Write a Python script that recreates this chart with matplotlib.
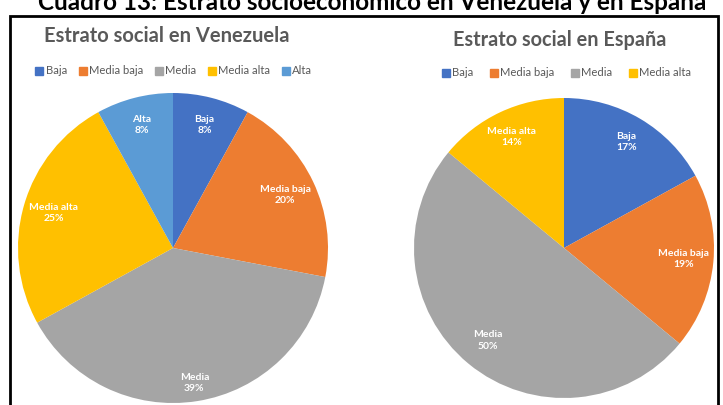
import matplotlib.pyplot as plt
from matplotlib.lines import Line2D
from matplotlib.patches import Rectangle
import numpy as np

plt.rcParams['font.family'] = ['Lato', 'DejaVu Sans']

# data
ven_labels = ['Baja', 'Media baja', 'Media', 'Media alta', 'Alta']
ven_values = [8, 20, 39, 25, 8]
esp_labels = ['Baja', 'Media baja', 'Media', 'Media alta']
esp_values = [17, 19, 50, 14]

colors = {'Baja': '#4472C4', 'Media baja': '#ED7D31', 'Media': '#A5A5A5',
          'Media alta': '#FFC000', 'Alta': '#5B9BD5'}
grey_txt = '#595959'

W, H = 723, 405
fig = plt.figure(figsize=(W / 100, H / 100), dpi=100)


def px_axes(left, top, size):
    return fig.add_axes([left / W, 1 - (top + size) / H, size / W, size / H])


def draw_pie(ax, labels, values, label_dist):
    cols = [colors[l] for l in labels]
    wedges, _ = ax.pie(values, colors=cols, startangle=90, counterclock=False,
                       wedgeprops=dict(linewidth=0))
    total = sum(values)
    for w, lab, v, d in zip(wedges, labels, values, label_dist):
        ang = np.deg2rad((w.theta1 + w.theta2) / 2)
        ax.text(d * np.cos(ang), d * np.sin(ang), f"{lab}\n{round(100 * v / total)}%",
                ha='center', va='center', color='white', fontsize=7.5,
                fontweight='bold', linespacing=1.3)
    ax.set_xlim(-1, 1)
    ax.set_ylim(-1, 1)
    ax.axis('off')


ax1 = px_axes(18, 93, 310)
draw_pie(ax1, ven_labels, ven_values, [0.82, 0.8, 0.88, 0.8, 0.82])

ax2 = px_axes(414, 98, 300)
draw_pie(ax2, esp_labels, esp_values, [0.82, 0.8, 0.8, 0.82])

# titles
fig.text(167 / W, 1 - 36 / H, 'Estrato social en Venezuela', ha='center', va='center',
         fontsize=14.5, color=grey_txt, fontweight='bold')
fig.text(560 / W, 1 - 40 / H, 'Estrato social en España', ha='center', va='center',
         fontsize=14.3, color=grey_txt, fontweight='bold')

# legends
def legend_for(labels, cx, cy, spacing):
    handles = [Line2D([], [], marker='s', linestyle='', markersize=5.5,
                      color=colors[l]) for l in labels]
    fig.legend(handles, labels, loc='center', bbox_to_anchor=(cx / W, 1 - cy / H),
               ncol=len(labels), frameon=False, fontsize=8.1, handlelength=0.6,
               handletextpad=0.25, columnspacing=1.1 * spacing, labelcolor=grey_txt)

legend_for(ven_labels, 174, 71, 1.0)
legend_for(esp_labels, 567, 73, 1.4)

# outer frame and cut-off caption
fig.patches.append(Rectangle((10 / W, -0.1), 708 / W, 1.1 - 16 / H,
                             transform=fig.transFigure, fill=False,
                             edgecolor='black', linewidth=2))
fig.text(372 / W, 1 - 10 / H, 'Cuadro 13: Estrato socioeconómico en Venezuela y en España',
         ha='center', va='baseline', fontsize=17.5, fontweight='bold', color='black')

fig.savefig('out.png', dpi=100)
